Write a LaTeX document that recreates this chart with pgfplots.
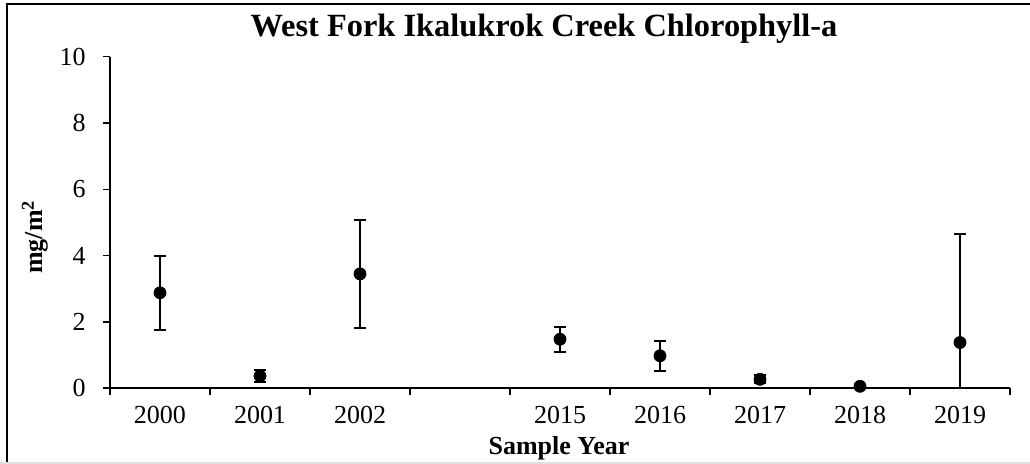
\documentclass[border=0pt]{standalone}
\usepackage{pgfplots}
\pgfplotsset{compat=1.18}
\usepackage{fontspec}
\setmainfont{Liberation Serif}

% mean chlorophyll-a and error (plus, minus); slot 3 is the empty gap
\pgfplotstableread{
x  y     ep    em
0  2.88  1.10  1.12
1  0.37  0.17  0.17
2  3.45  1.63  1.63
4  1.48  0.37  0.38
5  0.98  0.45  0.45
6  0.27  0.12  0.12
7  0.06  0.00  0.00
8  1.38  3.27  1.38
}\chla

\begin{document}
\begin{tikzpicture}
\useasboundingbox (0,0) rectangle (515pt,232pt);
\draw[line width=0.8pt] (3.5pt,0) -- (3.5pt,230pt) -- (515pt,230pt);
\draw[black!12,line width=0.8pt] (0,0.6pt) -- (515pt,0.6pt);
\begin{axis}[
  at={(55pt,37.85pt)},anchor=south west,
  width=450pt,height=165.8pt,scale only axis,
  xmin=-0.5,xmax=8.5,ymin=0,ymax=10,
  axis lines*=left,axis line style={line width=0.8pt},
  tick align=outside,major tick length=3.6pt,
  tick style={line width=0.8pt,black},
  xtick={-0.5,0.5,...,8.5},xticklabels={},
  extra x ticks={0,1,2,4,5,6,7,8},
  extra x tick labels={2000,2001,2002,2015,2016,2017,2018,2019},
  extra x tick style={major tick length=0pt,
    xticklabel style={yshift=-5.5pt}},
  ytick={0,2,...,10},
  yticklabel style={xshift=-5pt},
  /pgf/number format/assume math mode=true,
  tick label style={font=\fontsize{13}{15}\selectfont},
  clip=false,
]
\addplot[only marks,mark=*,mark size=3pt,black,
  error bars/.cd,y dir=both,y explicit,
  error bar style={line width=1pt,black},
  error mark options={rotate=90,mark size=3pt,line width=1pt}]
  table[x=x,y=y,y error plus=ep,y error minus=em]{\chla};
\end{axis}
\node[anchor=base,font=\fontsize{16.2}{18}\selectfont\bfseries] at (272pt,213.5pt) {West Fork Ikalukrok Creek Chlorophyll-a};
\node[anchor=base,font=\fontsize{13}{15}\selectfont\bfseries] at (279.5pt,4.5pt) {Sample Year};
\node[rotate=90,font=\fontsize{13}{15}\selectfont\bfseries] at (17.5pt,113.5pt) {mg/m\textsuperscript{2}};
\end{tikzpicture}
\end{document}
